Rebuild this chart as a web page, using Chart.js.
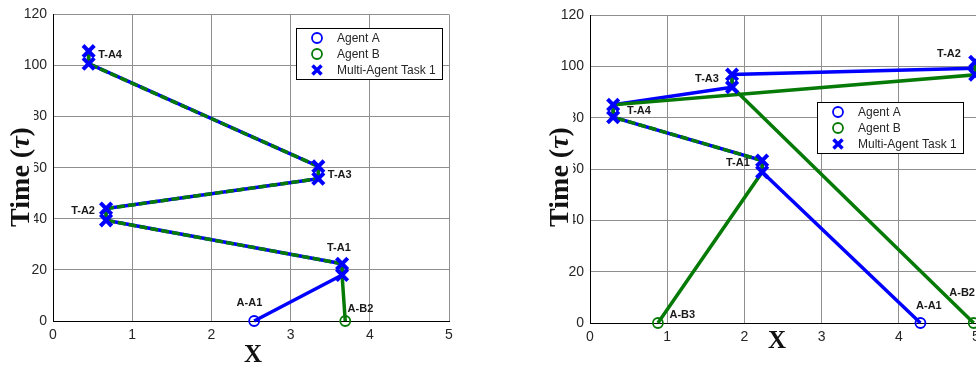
<!DOCTYPE html>
<html>
<head>
<meta charset="utf-8">
<script src="https://cdn.jsdelivr.net/npm/chart.js@4.4.1/dist/chart.umd.min.js"></script>
<style>
  html, body { margin: 0; padding: 0; background: #fff; overflow: hidden; }
  body { width: 976px; height: 369px; position: relative; }
  canvas { position: absolute; top: 0; }
  #left { left: 0; }
  #right { left: 530px; }
</style>
</head>
<body>
<canvas id="left" width="480" height="369"></canvas>
<canvas id="right" width="480" height="369"></canvas>
<script>
// ---- left panel: both agents share the whole task chain ----
const leftTaskX = [3.65, 3.65, 0.67, 0.67, 3.35, 3.35, 0.45, 0.45];
const leftTaskT = [18, 22.4, 39.4, 44, 55.7, 60.5, 100.7, 105.6];

const leftAX = [2.54, 3.65, 3.65, 0.67, 0.67, 3.35, 3.35, 0.45, 0.45];
const leftAT = [0, 18, 22.4, 39.4, 44, 55.7, 60.5, 100.7, 105.6];
const leftBX = [3.69, 3.65, 3.65, 0.67, 0.67, 3.35, 3.35, 0.45, 0.45];
const leftBT = [0, 18, 22.4, 39.4, 44, 55.7, 60.5, 100.7, 105.6];
const leftBDash = [0, 0, 1, 0, 1, 0, 1, 0]; // legs travelled together with agent A

const leftLabels = [
  { text: 'T-A4', x: 0.57, t: 104.3, align: 'left' },
  { text: 'T-A3', x: 3.47, t: 57.3, align: 'left' },
  { text: 'T-A2', x: 0.53, t: 42.9, align: 'right' },
  { text: 'T-A1', x: 3.61, t: 28.5, align: 'center' },
  { text: 'A-A1', x: 2.48, t: 6.9, align: 'center' },
  { text: 'A-B2', x: 3.72, t: 4.6, align: 'left' }
];

// ---- right panel ----
const rightTaskX = [2.23, 2.23, 0.30, 0.30, 1.84, 1.84, 4.99, 4.99];
const rightTaskT = [58.8, 63.3, 80.2, 85, 91.9, 96.8, 96.7, 101.8];

const rightAX = [4.28, 2.23, 2.23, 0.30, 0.30, 1.84, 1.84, 4.99];
const rightAT = [0, 58.8, 63.3, 80.2, 85, 91.9, 96.8, 99.3];
const rightB3X = [0.88, 2.23, 2.23, 0.30, 0.30, 4.99, 4.99];
const rightB3T = [0, 58.8, 63.3, 80.2, 85, 96.7, 101.8];
const rightB3Dash = [0, 0, 1, 0, 0, 0];
const rightB2X = [4.97, 1.84, 1.84];
const rightB2T = [0, 91.9, 96.8];

const rightLabels = [
  { text: 'T-A2', x: 4.65, t: 104.7, align: 'center' },
  { text: 'T-A3', x: 1.67, t: 94.9, align: 'right' },
  { text: 'T-A4', x: 0.48, t: 82.8, align: 'left' },
  { text: 'T-A1', x: 2.07, t: 62.2, align: 'right' },
  { text: 'A-B3', x: 1.03, t: 3.2, align: 'left' },
  { text: 'A-A1', x: 4.39, t: 6.8, align: 'center' },
  { text: 'A-B2', x: 4.82, t: 11.7, align: 'center' }
];

const xTicks = [0, 1, 2, 3, 4, 5];
const yTicks = [0, 20, 40, 60, 80, 100, 120];
const legendNames = ['Agent A', 'Agent B', 'Multi-Agent Task 1'];

const BLUE = '#0000ff';
const GREEN = '#067a06';
const SANS = '"Liberation Sans", Arial, sans-serif';
const SERIF = '"Liberation Serif", "Times New Roman", serif';

const pts = (xs, ts) => xs.map((x, i) => ({ x: x, y: ts[i] }));

function agentPath(xs, ts, color, dash, order) {
  return {
    data: pts(xs, ts),
    showLine: true,
    borderColor: color,
    backgroundColor: 'rgba(0,0,0,0)',
    borderWidth: 3.5,
    pointRadius: xs.map((_, i) => i === 0 ? 5 : 0),
    pointBorderWidth: 1.8,
    pointBorderColor: color,
    pointBackgroundColor: 'rgba(0,0,0,0)',
    segment: dash ? { borderDash: c => dash[c.p0DataIndex] ? [8, 3] : undefined } : {},
    clip: false,
    order: order
  };
}

function taskMarks(xs, ts) {
  return {
    data: pts(xs, ts),
    showLine: false,
    pointStyle: 'crossRot',
    pointRadius: 8,
    pointBorderWidth: 4,
    pointBorderColor: BLUE,
    borderColor: BLUE,
    clip: false,
    order: 0
  };
}

// labels, legend box and axis titles drawn on top of the plot
function decor(cfg) {
  return {
    id: 'decor',
    afterDraw(chart) {
      const ctx = chart.ctx;
      const xs = chart.scales.x, ys = chart.scales.y;
      ctx.save();

      ctx.font = 'bold 11px ' + SANS;
      ctx.fillStyle = '#1a1a1a';
      ctx.textBaseline = 'middle';
      cfg.labels.forEach(l => {
        ctx.textAlign = l.align;
        ctx.fillText(l.text, xs.getPixelForValue(l.x), ys.getPixelForValue(l.t));
      });

      // legend
      const L = cfg.legend;
      ctx.fillStyle = '#fff';
      ctx.fillRect(L.x, L.y, 147, 52);
      ctx.strokeStyle = '#000';
      ctx.lineWidth = 1;
      ctx.strokeRect(L.x + 0.5, L.y + 0.5, 146, 51);
      const rows = [10, 26, 42];
      ctx.font = '12px ' + SANS;
      ctx.textAlign = 'left';
      legendNames.forEach((name, i) => {
        const mx = L.x + 21, my = L.y + rows[i];
        if (i < 2) {
          ctx.strokeStyle = i === 0 ? BLUE : GREEN;
          ctx.lineWidth = 1.8;
          ctx.beginPath();
          ctx.arc(mx, my, 5, 0, Math.PI * 2);
          ctx.stroke();
        } else {
          ctx.strokeStyle = BLUE;
          ctx.lineWidth = 3.5;
          ctx.beginPath();
          ctx.moveTo(mx - 4.5, my - 4.5); ctx.lineTo(mx + 4.5, my + 4.5);
          ctx.moveTo(mx + 4.5, my - 4.5); ctx.lineTo(mx - 4.5, my + 4.5);
          ctx.stroke();
        }
        ctx.fillStyle = '#262626';
        ctx.fillText(name, L.x + 41, my + 1);
      });

      // x title
      ctx.fillStyle = '#111';
      ctx.font = 'bold 25px ' + SERIF;
      ctx.textAlign = 'center';
      ctx.fillText('X', cfg.xTitle.x, cfg.xTitle.y);

      // y title with a white backing, rotated
      ctx.translate(cfg.yTitle.x, cfg.yTitle.y);
      ctx.rotate(-Math.PI / 2);
      const parts = [
        ['Time (', 'bold 28px ' + SERIF],
        ['\u03c4', 'italic bold 28px ' + SERIF],
        [')', 'bold 28px ' + SERIF]
      ];
      let w = 0;
      parts.forEach(p => { ctx.font = p[1]; w += ctx.measureText(p[0]).width; });
      ctx.fillStyle = '#fff';
      ctx.fillRect(-59, -15, 128, 28);
      ctx.fillStyle = '#111';
      ctx.textAlign = 'left';
      let px = -w / 2;
      parts.forEach(p => {
        ctx.font = p[1];
        ctx.fillText(p[0], px, 1);
        px += ctx.measureText(p[0]).width;
      });
      ctx.restore();
    }
  };
}

function axes(yWidth, xHeight) {
  const grid = { color: '#8f8f8f', lineWidth: 1, drawTicks: false };
  const border = { color: '#000', width: 1 };
  const tickFont = { family: SANS, size: 14 };
  return {
    x: {
      type: 'linear', min: 0, max: 5,
      afterBuildTicks: s => { s.ticks = xTicks.map(v => ({ value: v })); },
      ticks: { font: tickFont, color: '#262626', padding: 6, maxRotation: 0 },
      grid: grid, border: border,
      afterFit: s => { s.height = xHeight; }
    },
    y: {
      type: 'linear', min: 0, max: 120,
      afterBuildTicks: s => { s.ticks = yTicks.map(v => ({ value: v })); },
      ticks: { font: tickFont, color: '#262626', padding: 6 },
      grid: grid, border: border,
      afterFit: s => { s.width = yWidth; }
    }
  };
}

function baseOptions(pad, yWidth, xHeight) {
  return {
    responsive: false,
    animation: false,
    devicePixelRatio: 1,
    layout: { padding: pad },
    plugins: { legend: { display: false }, tooltip: { enabled: false } },
    scales: axes(yWidth, xHeight)
  };
}

new Chart(document.getElementById('left'), {
  type: 'scatter',
  data: {
    datasets: [
      taskMarks(leftTaskX, leftTaskT),
      agentPath(leftBX, leftBT, GREEN, leftBDash, 1),
      agentPath(leftAX, leftAT, BLUE, null, 2)
    ]
  },
  options: baseOptions({ top: 14, right: 31, left: 0, bottom: 0 }, 53, 48),
  plugins: [decor({
    labels: leftLabels,
    legend: { x: 296, y: 28 },
    xTitle: { x: 253, y: 356 },
    yTitle: { x: 21, y: 177 }
  })]
});

new Chart(document.getElementById('right'), {
  type: 'scatter',
  data: {
    datasets: [
      taskMarks(rightTaskX, rightTaskT),
      agentPath(rightB3X, rightB3T, GREEN, rightB3Dash, 1),
      agentPath(rightB2X, rightB2T, GREEN, null, 1),
      agentPath(rightAX, rightAT, BLUE, null, 2)
    ]
  },
  options: baseOptions({ top: 15, right: 34, left: 0, bottom: 0 }, 60, 46),
  plugins: [decor({
    labels: rightLabels,
    legend: { x: 287, y: 102 },
    xTitle: { x: 247, y: 342 },
    yTitle: { x: 30, y: 177 }
  })]
});
</script>
</body>
</html>
